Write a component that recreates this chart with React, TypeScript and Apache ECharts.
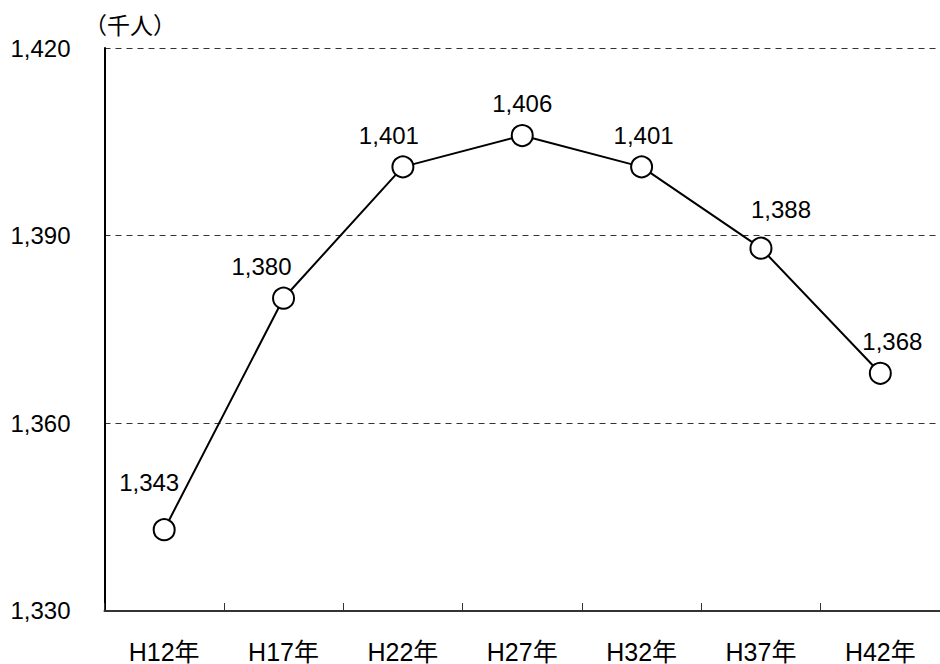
import React, { useEffect, useRef } from "react";
import * as echarts from "echarts";

const categories = ["H12年", "H17年", "H22年", "H27年", "H32年", "H37年", "H42年"];
const population = [1343, 1380, 1401, 1406, 1401, 1388, 1368];
// label placement relative to each marker (style only)
const labelOffsets: [number, number][] = [
  [-15, -47],
  [-22, -32],
  [-14, -31],
  [0, -32],
  [2, -31],
  [20, -39],
  [12, -32],
];
const yMin = 1330;
const yMax = 1420;
const yInterval = 30;
const unitLabel = "（千人）";

const FONT = "'Liberation Sans', 'Noto Sans CJK JP', sans-serif";

export default function App() {
  const ref = useRef<HTMLDivElement>(null);
  useEffect(() => {
    if (!ref.current) return;
    const chart = echarts.init(ref.current, null, { renderer: "svg" });
    chart.setOption({
      animation: false,
      backgroundColor: "#fff",
      textStyle: { fontFamily: FONT },
      grid: { left: 104.5, right: -5, top: 48, bottom: 53, containLabel: false },
      graphic: [
        {
          type: "text",
          left: 84,
          top: 12,
          style: { text: unitLabel, font: `23px 'Noto Sans CJK JP', sans-serif`, fill: "#000" },
        },
      ],
      xAxis: {
        type: "category",
        data: categories,
        boundaryGap: true,
        axisLine: { lineStyle: { color: "#333", width: 2 } },
        axisTick: { show: true, inside: true, length: 8, lineStyle: { color: "#333", width: 1 } },
        axisLabel: { color: "#000", fontSize: 25, margin: 28, fontFamily: FONT },
        splitLine: { show: false },
      },
      yAxis: {
        type: "value",
        min: yMin,
        max: yMax,
        interval: yInterval,
        axisLine: { show: true, lineStyle: { color: "#000", width: 2 } },
        axisTick: { show: false },
        axisLabel: {
          color: "#000",
          fontSize: 24,
          margin: 34,
          fontFamily: FONT,
          formatter: (v: number) => v.toLocaleString("en-US"),
        },
        splitLine: { show: true, lineStyle: { color: "#333", type: [6, 5], width: 1 } },
      },
      series: [
        {
          type: "line",
          data: population.map((v, i) => ({
            value: v,
            label: { offset: labelOffsets[i] },
          })),
          symbol: "circle",
          symbolSize: 21,
          lineStyle: { color: "#000", width: 2 },
          itemStyle: { color: "#fff", borderColor: "#000", borderWidth: 2 },
          label: {
            show: true,
            position: "inside",
            color: "#000",
            fontSize: 24,
            fontFamily: FONT,
            formatter: (p: any) => Number(p.value).toLocaleString("en-US"),
          },
          z: 3,
        },
      ],
    });
    return () => chart.dispose();
  }, []);
  return (
    <div
      ref={ref}
      style={{ position: "absolute", left: 0, top: 0, width: 940, height: 664 }}
    />
  );
}
